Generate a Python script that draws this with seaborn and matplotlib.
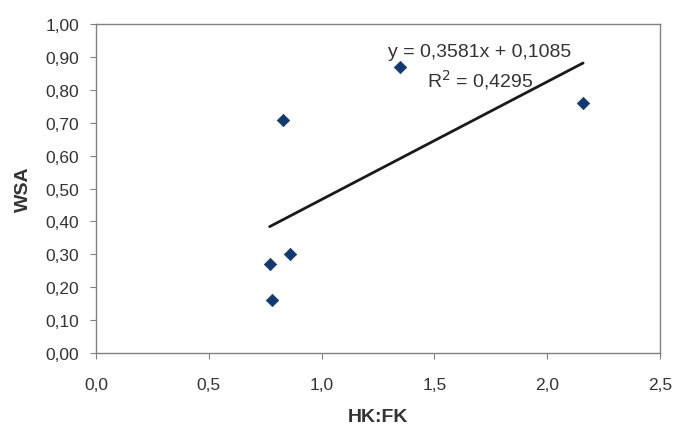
import numpy as np
import pandas as pd
import matplotlib
matplotlib.use("Agg")
import matplotlib.pyplot as plt
import seaborn as sns
from matplotlib.ticker import FuncFormatter, MultipleLocator

# Data
hk_fk = [0.77, 0.78, 0.83, 0.86, 1.35, 2.16]
wsa = [0.27, 0.16, 0.71, 0.30, 0.87, 0.76]
slope = 0.3581
intercept = 0.1085
r2 = 0.4295

sns.set_theme(style="white")
plt.rcParams['font.family'] = ['Liberation Sans', 'DejaVu Sans']

df = pd.DataFrame({"HK:FK": hk_fk, "WSA": wsa})

fig = plt.figure(figsize=(6.76, 4.27), dpi=100)
ax = fig.add_axes([0.142, 0.171, 0.834, 0.770])

xl = np.array([min(hk_fk), max(hk_fk)])
line_df = pd.DataFrame({"x": xl, "y": slope * xl + intercept})
sns.lineplot(data=line_df, x="x", y="y", ax=ax, color="#1a1a1a", linewidth=2.0)
sns.scatterplot(data=df, x="HK:FK", y="WSA", ax=ax, marker="D", s=40,
                color="#14396e", edgecolor="#14396e", linewidth=0.5, zorder=3)

ax.set_xlim(0, 2.5)
ax.set_ylim(0, 1.0)
ax.xaxis.set_major_locator(MultipleLocator(0.5))
ax.yaxis.set_major_locator(MultipleLocator(0.1))
ax.xaxis.set_major_formatter(FuncFormatter(lambda v, p: f"{v:.1f}".replace(".", ",")))
ax.yaxis.set_major_formatter(FuncFormatter(lambda v, p: f"{v:.2f}".replace(".", ",")))

ax.tick_params(axis="both", which="major", direction="out", length=4, width=0.8,
               color="#808080", labelsize=12.5, labelcolor="#333333")
ax.tick_params(axis="y", pad=8)
ax.tick_params(axis="x", pad=13)
ax.tick_params(bottom=True, left=True)
for s in ax.spines.values():
    s.set_color("#808080")
    s.set_linewidth(1.0)

ax.set_xlabel("HK:FK", fontsize=14, fontweight="bold", color="#333333", labelpad=12)
ax.set_ylabel("WSA", fontsize=14, fontweight="bold", color="#333333", labelpad=10)

ax.text(0.681, 0.918, "y = 0,3581x + 0,1085", transform=ax.transAxes,
        ha="center", va="center", fontsize=14, color="#333333")
ax.text(0.681, 0.832, "R$^2$ = 0,4295", transform=ax.transAxes,
        ha="center", va="center", fontsize=14, color="#333333")

fig.savefig("out.png", dpi=100, facecolor="white")
